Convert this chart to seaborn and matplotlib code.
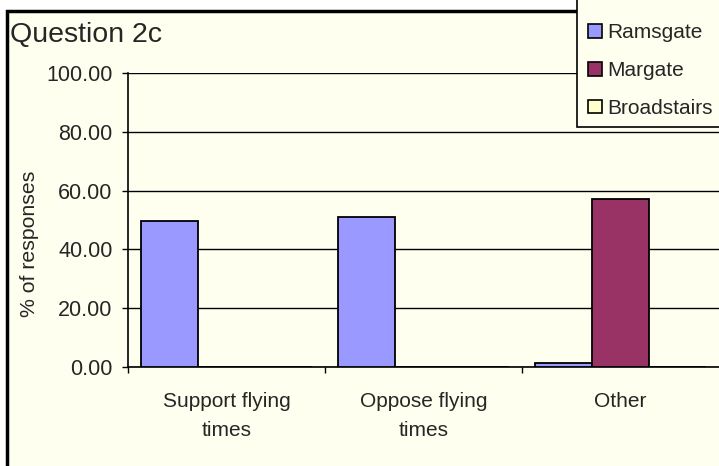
import pandas as pd
import seaborn as sns
import matplotlib.pyplot as plt
from matplotlib.patches import Patch, Rectangle
from matplotlib.ticker import FormatStrFormatter

# data
questions = ["Support flying\ntimes", "Oppose flying\ntimes", "Other"]
towns = ["Ramsgate", "Margate", "Broadstairs"]
ramsgate = [49.5, 50.9, 1.5]
margate = [0.0, 0.0, 57.0]
broadstairs = [0.0, 0.0, 0.0]
colors = ["#9999FF", "#993366", "#FFFFCC"]

df = pd.DataFrame({
    "question": questions * 3,
    "town": [t for t in towns for _ in questions],
    "pct": ramsgate + margate + broadstairs,
})

sns.set_theme(style="white")
plt.rcParams["font.family"] = ["Liberation Sans", "DejaVu Sans"]

W, H = 719, 466
fig = plt.figure(figsize=(W / 100, H / 100), dpi=100)
fig.patch.set_facecolor("white")

# chart area with black frame (runs off the right and bottom edges)
fig.patches.append(Rectangle((7 / W, -0.1), 1.2, 1.1 - 11 / H,
                             transform=fig.transFigure, facecolor="#FFFFF0",
                             edgecolor="black", linewidth=2.5, zorder=-10))

ax = fig.add_axes([128 / W, 99 / H, 591 / W, 294 / H])
ax.set_facecolor("none")

sns.barplot(data=df, x="question", y="pct", hue="town", palette=colors,
            saturation=1, width=0.87, edgecolor="black", linewidth=1.3,
            ax=ax, legend=False, zorder=3)

ax.set_xlim(-0.5, 2.5)
ax.set_ylim(0, 100)
ax.set_yticks([0, 20, 40, 60, 80, 100])
ax.yaxis.set_major_formatter(FormatStrFormatter("%.2f"))
ax.grid(axis="y", color="black", linewidth=1.0, zorder=0)
ax.set_axisbelow(True)

for s in ["top", "right"]:
    ax.spines[s].set_visible(False)
for s in ["left", "bottom"]:
    ax.spines[s].set_color("black")
    ax.spines[s].set_linewidth(1.2)

# category labels on minor ticks, boundary ticks as majors
ax.set_xticks([0, 1, 2], minor=True)
ax.set_xticklabels(questions, minor=True)
ax.set_xticks([-0.5, 0.5, 1.5])
ax.set_xticklabels([])
ax.tick_params(axis="x", which="minor", length=0, pad=18, labelsize=15)
ax.tick_params(axis="x", which="major", direction="out", length=4.5,
               width=1, color="black", bottom=True)
ax.tick_params(axis="y", direction="out", length=4, width=1, color="black",
               left=True, pad=7, labelsize=15.5)
for lbl in ax.get_xticklabels(minor=True):
    lbl.set_linespacing(1.65)
ax.set_xlabel("")
ax.set_ylabel("% of responses", fontsize=15.3)
ax.yaxis.set_label_coords(-0.166, 0.42)
ax.yaxis.label.set_va("center")

fig.text(10 / W, 1 - 35 / H, "Question 2c", fontsize=20.5, ha="left",
         va="center")

# legend box overlapping the top right
fig.patches.append(Rectangle((577 / W, 1 - 127 / H), 0.3, 0.5,
                             transform=fig.transFigure, facecolor="#FFFFF0",
                             edgecolor="black", linewidth=1.2, zorder=5))
handles = [Patch(facecolor=c, edgecolor="black", linewidth=1.2) for c in colors]
leg = fig.legend(handles, towns, loc="upper left",
                 bbox_to_anchor=(580 / W, 1 - 15 / H), frameon=False,
                 fontsize=15, handlelength=0.65, handleheight=0.65,
                 handletextpad=0.25, labelspacing=0.9, borderaxespad=0)
leg.set_zorder(6)

fig.savefig("out.png", dpi=100)
